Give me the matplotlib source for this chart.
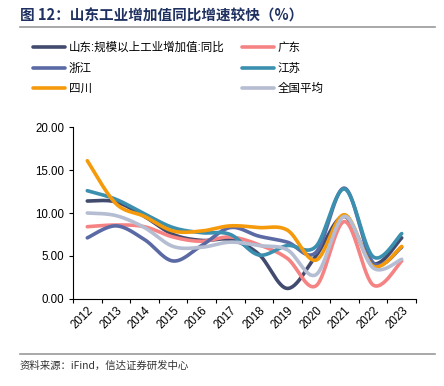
import numpy as np
import matplotlib
matplotlib.use("Agg")
import matplotlib.pyplot as plt
from matplotlib.lines import Line2D

plt.rcParams['font.family'] = ['Liberation Sans', 'Noto Sans CJK SC', 'DejaVu Sans']

years = ['2012', '2013', '2014', '2015', '2016', '2017', '2018', '2019', '2020', '2021', '2022', '2023']
series_names = ['山东:规模以上工业增加值:同比', '广东', '浙江', '江苏', '四川', '全国平均']
shandong = [11.4, 11.3, 9.6, 7.5, 6.8, 6.9, 5.2, 1.2, 5.0, 9.6, 4.1, 7.1]
guangdong = [8.4, 8.6, 8.4, 7.2, 6.7, 7.2, 6.3, 4.7, 1.5, 9.0, 1.6, 4.4]
zhejiang = [7.1, 8.5, 6.9, 4.4, 6.2, 8.3, 7.3, 6.6, 5.4, 12.9, 4.2, 6.0]
jiangsu = [12.6, 11.6, 9.9, 8.3, 7.7, 7.5, 5.1, 6.2, 6.1, 12.8, 4.9, 7.6]
sichuan = [16.1, 11.1, 9.6, 7.9, 7.9, 8.5, 8.3, 8.0, 4.5, 9.8, 3.8, 6.1]
national = [10.0, 9.7, 8.3, 6.1, 6.0, 6.6, 6.2, 5.7, 2.8, 9.6, 3.6, 4.6]

colors = ['#424b6e', '#f68383', '#5b6aa5', '#3b8faf', '#f59a0b', '#b5bdd2']


def smooth(xs, ys, n=30):
    # Excel-style smoothed line: cubic Bezier with 1/6 tangent control points
    xs = np.asarray(xs, float)
    ys = np.asarray(ys, float)
    px = np.concatenate([[xs[0]], xs, [xs[-1]]])
    py = np.concatenate([[ys[0]], ys, [ys[-1]]])
    out_x, out_y = [], []
    t = np.linspace(0, 1, n)
    for i in range(1, len(px) - 2):
        p0 = np.array([px[i], py[i]])
        p3 = np.array([px[i + 1], py[i + 1]])
        c1 = p0 + (p3 - np.array([px[i - 1], py[i - 1]])) / 6
        c2 = p3 - (np.array([px[i + 2], py[i + 2]]) - p0) / 6
        b = ((1 - t) ** 3)[:, None] * p0 + (3 * (1 - t) ** 2 * t)[:, None] * c1 \
            + (3 * (1 - t) * t ** 2)[:, None] * c2 + (t ** 3)[:, None] * p3
        out_x.extend(b[:, 0])
        out_y.extend(b[:, 1])
    return out_x, out_y


fig = plt.figure(figsize=(4.44, 3.86), dpi=100)

# title
fig.text(20 / 444, 1 - 16 / 386, '图 12：山东工业增加值同比增速较快（%）',
         fontsize=10.5, fontweight='bold', color='#1f3160', va='center', ha='left',
         family=['Noto Sans CJK SC', 'DejaVu Sans'])
fig.add_artist(Line2D([20 / 444, 435 / 444], [1 - 27 / 386, 1 - 27 / 386],
                      color='#9a9a9a', lw=1.2))

ax = fig.add_axes([73 / 444, 1 - 298.7 / 386, 343 / 444, 171.4 / 386])
x = np.arange(len(years))
all_series = [shandong, guangdong, zhejiang, jiangsu, sichuan, national]
handles = []
for name, vals, c in zip(series_names, all_series, colors):
    sx, sy = smooth(x, vals)
    ln, = ax.plot(sx, sy, color=c, lw=2.6, label=name, solid_capstyle='round')
    handles.append(ln)

ax.set_xlim(-0.5, len(years) - 0.5)
ax.set_ylim(0, 20)
ax.set_yticks([0, 5, 10, 15, 20])
ax.set_yticklabels(['%.2f' % v for v in [0, 5, 10, 15, 20]], fontsize=8.3)
ax.set_xticks(np.arange(-0.5, len(years), 1))
ax.set_xticklabels([])
ax.set_xticks(x, minor=True)
ax.set_xticklabels(years, minor=True, rotation=45, ha='right', va='top',
                   rotation_mode='anchor', fontsize=8.3)
ax.tick_params(axis='x', which='minor', length=0, pad=4)
ax.tick_params(axis='both', which='major', direction='out', length=3, width=0.8)
ax.spines['top'].set_visible(False)
ax.spines['right'].set_visible(False)

order = [0, 2, 4, 1, 3, 5]
fig.legend([handles[i] for i in order], [series_names[i] for i in order],
           ncol=2, loc='upper left', bbox_to_anchor=(33 / 444, 1 - 42 / 386),
           frameon=False, prop={'family': ['Liberation Sans', 'Noto Sans CJK SC'], 'size': 8.3},
           handlelength=2.8, handletextpad=0.3, labelspacing=0.75, columnspacing=1.5,
           borderaxespad=0, borderpad=0)

# source
fig.add_artist(Line2D([20 / 444, 435 / 444], [1 - 354 / 386, 1 - 354 / 386],
                      color='#9a9a9a', lw=1.2))
fig.text(20 / 444, 1 - 366 / 386, '资料来源：iFind，信达证券研发中心', fontsize=7.5,
         color='#333333', va='center', ha='left',
         family=['Noto Sans CJK SC', 'DejaVu Sans'])

fig.savefig('out.png', dpi=100)
